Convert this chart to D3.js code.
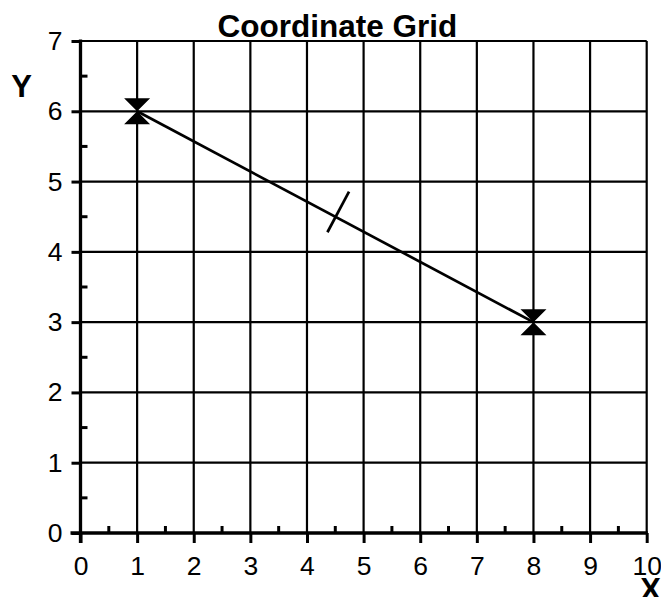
<!DOCTYPE html>
<html>
<head>
<meta charset="utf-8">
<script src="https://cdn.jsdelivr.net/npm/d3@7"></script>
<style>
  html, body { margin: 0; padding: 0; background: #fff; }
  svg { display: block; font-family: "Liberation Sans", Arial, sans-serif; }
</style>
</head>
<body>
<svg id="chart" width="661" height="597"></svg>
<script>
// data
const xDomain = [0, 10];
const yDomain = [0, 7];
const xTickValues = [0, 1, 2, 3, 4, 5, 6, 7, 8, 9, 10];
const yTickValues = [0, 1, 2, 3, 4, 5, 6, 7];
const xMinorTicks = [0.5, 1.5, 2.5, 3.5, 4.5, 5.5, 6.5, 7.5, 8.5, 9.5];
const yMinorTicks = [0.5, 1.5, 2.5, 3.5, 4.5, 5.5, 6.5];
const segmentPoints = [[1, 6], [8, 3]];
const midMark = [4.5, 4.5];
const titleText = "Coordinate Grid";

const svg = d3.select("#chart");

const x = d3.scaleLinear().domain(xDomain).range([80.5, 646.7]);
const y = d3.scaleLinear().domain(yDomain).range([533, 41]);

// grid
const grid = svg.append("g").attr("stroke", "#000").attr("stroke-width", 2.2);
grid.selectAll("line.v")
    .data(xTickValues.filter(d => d > 0))
    .join("line")
    .attr("x1", d => x(d)).attr("x2", d => x(d))
    .attr("y1", y(7)).attr("y2", y(0));
grid.selectAll("line.h")
    .data(yTickValues.filter(d => d > 0))
    .join("line")
    .attr("x1", x(0)).attr("x2", x(10))
    .attr("y1", d => y(d)).attr("y2", d => y(d));

// x axis
const xAxis = svg.append("g")
    .attr("transform", `translate(0,${y(0)})`)
    .call(d3.axisBottom(x).tickValues(xTickValues).tickSize(10).tickPadding(13).tickFormat(d3.format("d")));
xAxis.select(".domain").remove();
xAxis.selectAll(".tick line").attr("stroke", "#000").attr("stroke-width", 3);
xAxis.selectAll(".tick text").attr("fill", "#000").style("font-size", "26.5px").style("font-family", "Liberation Sans, Arial, sans-serif");

// y axis
const yAxis = svg.append("g")
    .attr("transform", `translate(${x(0)},0)`)
    .call(d3.axisLeft(y).tickValues(yTickValues).tickSize(9).tickPadding(9).tickFormat(d3.format("d")));
yAxis.select(".domain").remove();
yAxis.selectAll(".tick line").attr("stroke", "#000").attr("stroke-width", 3);
yAxis.selectAll(".tick text").attr("fill", "#000").style("font-size", "26.5px").style("font-family", "Liberation Sans, Arial, sans-serif");

// minor ticks
svg.append("g").selectAll("line")
    .data(xMinorTicks)
    .join("line")
    .attr("x1", d => x(d)).attr("x2", d => x(d))
    .attr("y1", y(0)).attr("y2", y(0) - 7)
    .attr("stroke", "#000").attr("stroke-width", 3);
svg.append("g").selectAll("line")
    .data(yMinorTicks)
    .join("line")
    .attr("x1", x(0)).attr("x2", x(0) + 7)
    .attr("y1", d => y(d)).attr("y2", d => y(d))
    .attr("stroke", "#000").attr("stroke-width", 3);

// axis lines
svg.append("line")
    .attr("x1", x(0) - 10).attr("x2", x(10) + 1)
    .attr("y1", y(0)).attr("y2", y(0))
    .attr("stroke", "#000").attr("stroke-width", 3.3);
svg.append("line")
    .attr("x1", x(0)).attr("x2", x(0))
    .attr("y1", y(7) - 1.5).attr("y2", y(0) + 10)
    .attr("stroke", "#000").attr("stroke-width", 3.3);

// segment
svg.append("path")
    .datum(segmentPoints)
    .attr("d", d3.line().x(d => x(d[0])).y(d => y(d[1])))
    .attr("fill", "none")
    .attr("stroke", "#000")
    .attr("stroke-width", 2.7);

// midpoint tick, perpendicular to the segment in screen space
const p0 = segmentPoints[0], p1 = segmentPoints[1];
const dx = x(p1[0]) - x(p0[0]), dy = y(p1[1]) - y(p0[1]);
const len = Math.hypot(dx, dy);
const nx = -dy / len, ny = dx / len;
const mx = x(midMark[0]) + 2, my = y(midMark[1]) - 3;
svg.append("line")
    .attr("x1", mx - nx * 25).attr("y1", my - ny * 25)
    .attr("x2", mx + nx * 21).attr("y2", my + ny * 21)
    .attr("stroke", "#000").attr("stroke-width", 2.7);

// hourglass markers
const hw = 13, hh = 13;
svg.append("g").selectAll("path")
    .data(segmentPoints)
    .join("path")
    .attr("d", d => {
        const cx = x(d[0]), cy = y(d[1]);
        return `M${cx - hw},${cy - hh}L${cx + hw},${cy - hh}L${cx},${cy}Z` +
               `M${cx - hw},${cy + hh}L${cx + hw},${cy + hh}L${cx},${cy}Z`;
    })
    .attr("fill", "#000");

// title and axis labels
svg.append("text")
    .attr("x", 337.5).attr("y", 37.3)
    .attr("text-anchor", "middle")
    .style("font-size", "31.5px").style("font-weight", "bold")
    .text(titleText);
svg.append("text")
    .attr("x", 21.5).attr("y", 97)
    .attr("text-anchor", "middle")
    .style("font-size", "31px").style("font-weight", "bold")
    .text("Y");
svg.append("text")
    .attr("x", 650.5).attr("y", 600)
    .attr("text-anchor", "middle")
    .style("font-size", "31px").style("font-weight", "bold")
    .text("X");
</script>
</body>
</html>
